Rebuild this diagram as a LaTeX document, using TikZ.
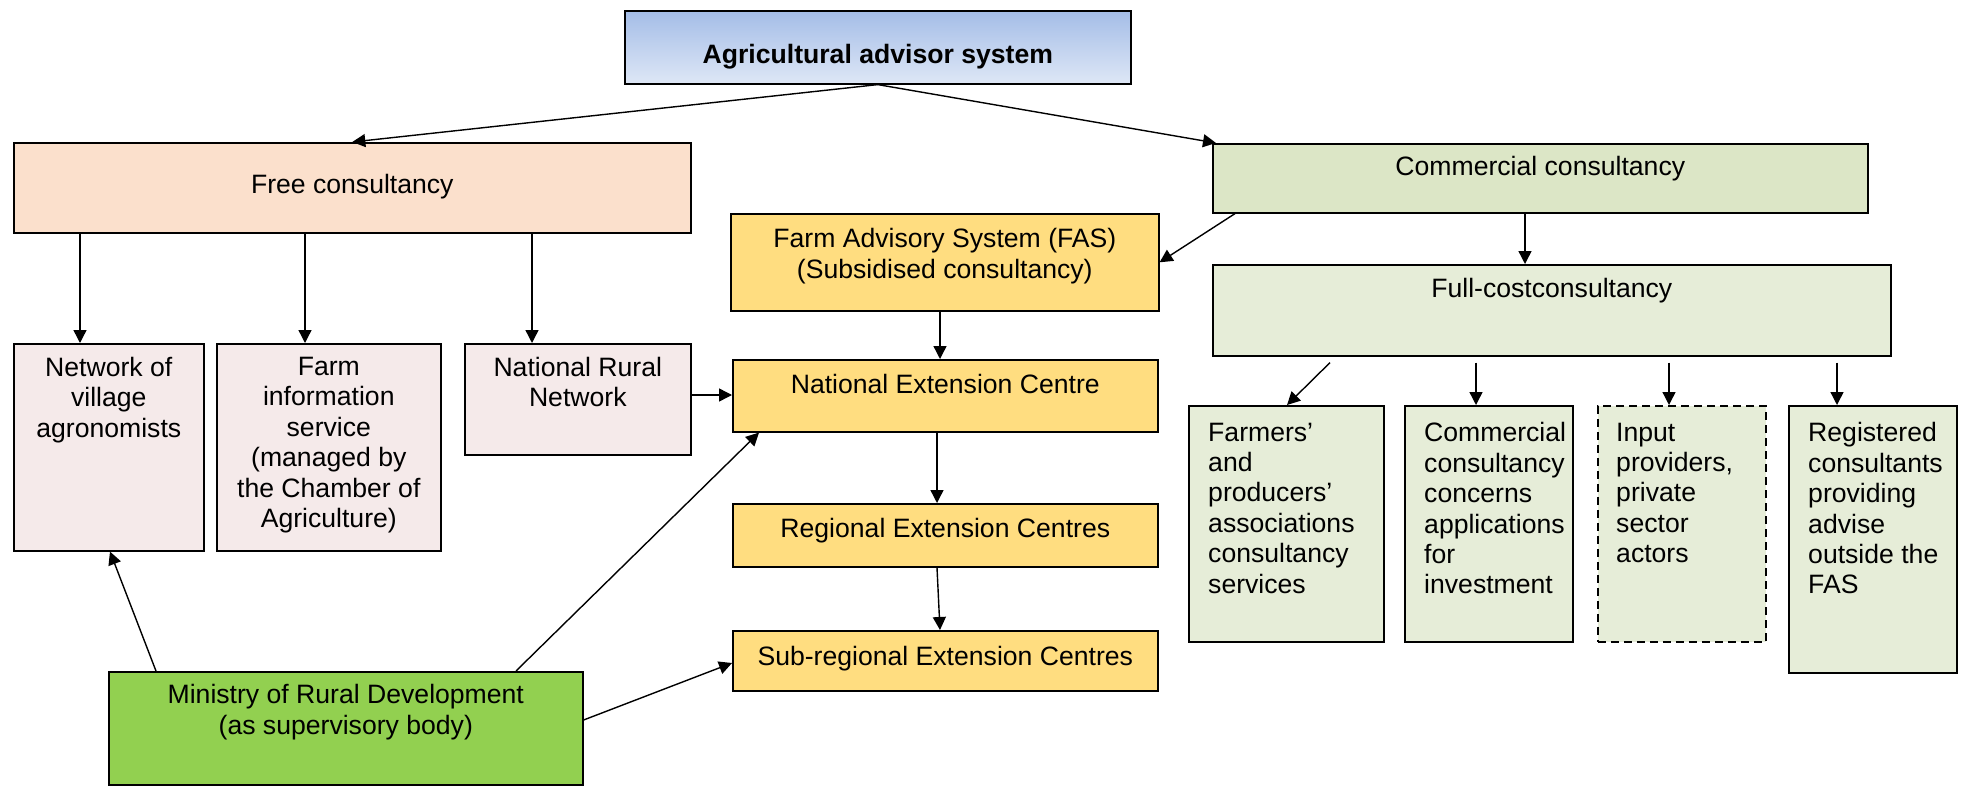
\documentclass[tikz,border=0pt]{standalone}
\usepackage{fontspec}
\setmainfont{Liberation Sans}
\usetikzlibrary{arrows.meta,calc}

\definecolor{headtop}{RGB}{164,189,231}
\definecolor{headbot}{RGB}{222,231,246}
\definecolor{freefill}{RGB}{251,224,204}
\definecolor{pinkfill}{RGB}{245,234,234}
\definecolor{commfill}{RGB}{220,230,198}
\definecolor{greenfill}{RGB}{230,237,216}
\definecolor{yellowfill}{RGB}{255,221,128}
\definecolor{ministryfill}{RGB}{146,208,80}

\begin{document}
\begin{tikzpicture}[x=1bp,y=-1bp,
  box/.style={draw=black, line width=1.6bp, inner sep=0pt, anchor=north west},
  lbl/.style={anchor=north, inner sep=0pt, align=center,
    font={\fontsize{26.6bp}{30.4bp}\selectfont}, execute at begin node=\strut},
  lbll/.style={lbl, align=left, anchor=north west},
  arr/.style={line width=1.4bp, -{Triangle[length=13bp,width=13bp]}}]
\useasboundingbox (0,0) rectangle (1968,786);

% ---- boxes ----
\node[box, top color=headtop, bottom color=headbot, minimum width=506bp, minimum height=73bp] (top) at (624,10) {};
\node[box, fill=freefill, minimum width=677bp, minimum height=90bp] (free) at (13,142) {};
\node[box, fill=commfill, minimum width=655bp, minimum height=69bp] (comm) at (1212,143) {};
\node[box, fill=yellowfill, minimum width=428bp, minimum height=97bp] (fas) at (730,213) {};
\node[box, fill=greenfill, minimum width=678bp, minimum height=91bp] (full) at (1212,264) {};
\node[box, fill=pinkfill, minimum width=190bp, minimum height=207bp] (net) at (13,343) {};
\node[box, fill=pinkfill, minimum width=224bp, minimum height=207bp] (farm) at (216,343) {};
\node[box, fill=pinkfill, minimum width=226bp, minimum height=111bp] (nrn) at (464,343) {};
\node[box, fill=yellowfill, minimum width=425bp, minimum height=72bp] (nec) at (732,359) {};
\node[box, fill=yellowfill, minimum width=425bp, minimum height=63bp] (reg) at (732,503) {};
\node[box, fill=yellowfill, minimum width=425bp, minimum height=60bp] (sub) at (732,630) {};
\node[box, fill=ministryfill, minimum width=474bp, minimum height=113bp] (min) at (108,671) {};
\node[box, fill=greenfill, minimum width=195bp, minimum height=236bp] (farmers) at (1188,405) {};
\node[box, fill=greenfill, minimum width=168bp, minimum height=236bp] (cconc) at (1404,405) {};
\node[box, fill=greenfill, dash pattern=on 8bp off 5bp, minimum width=168bp, minimum height=236bp] (input) at (1597,405) {};
\node[box, fill=greenfill, minimum width=168bp, minimum height=267bp] (regc) at (1788,405) {};

% ---- texts ----
\node[lbl] (top-t) at (top.north |- 0,42.5) {\textbf{Agricultural advisor system}};
\node[lbl] (free-t) at (free.north |- 0,172.5) {Free consultancy};
\node[lbl] (comm-t) at (comm.north |- 0,154.5) {Commercial consultancy};
\node[lbl] (fas-t) at (fas.north |- 0,228.5) {Farm Advisory System (FAS)\\(Subsidised consultancy)};
\node[lbl] (full-t) at (full.north |- 0,276.5) {Full-costconsultancy};
\node[lbl] (net-t) at (net.north |- 0,357) {Network of\\village\\agronomists};
\node[lbl] (farm-t) at (farm.north |- 0,357) {Farm\\information\\service\\(managed by\\the Chamber of\\Agriculture)};
\node[lbl] (nrn-t) at (nrn.north |- 0,357) {National Rural\\Network};
\node[lbl] (nec-t) at (nec.north |- 0,372.5) {National Extension Centre};
\node[lbl] (reg-t) at (reg.north |- 0,516.5) {Regional Extension Centres};
\node[lbl] (sub-t) at (sub.north |- 0,644.5) {Sub-regional Extension Centres};
\node[lbl] (min-t) at (min.north |- 0,684.5) {Ministry of Rural Development\\(as supervisory body)};
\node[lbll] (farmers-t) at ($(farmers.north west)+(20,17.5)$) {Farmers’\\and\\producers’\\associations\\consultancy\\services};
\node[lbll] (cconc-t) at ($(cconc.north west)+(20,17.5)$) {Commercial\\consultancy\\concerns\\applications\\for\\investment};
\node[lbll] (input-t) at ($(input.north west)+(19,17.5)$) {Input\\providers,\\private\\sector\\actors};
\node[lbll] (regc-t) at ($(regc.north west)+(20,17.5)$) {Registered\\consultants\\providing\\advise\\outside the\\FAS};

% ---- connectors ----
\draw[arr] (top.south) -- (free.north);
\draw[arr] (top.south) -- ($(comm.north west)+(4,0)$);
\draw[arr] (80,0 |- free.south) -- (80,0 |- net.north);
\draw[arr] (305,0 |- free.south) -- (305,0 |- farm.north);
\draw[arr] (532,0 |- free.south) -- (532,0 |- nrn.north);
\draw[arr] (nrn.east |- 0,395) -- (nec.west |- 0,395);
\draw[arr] (1235,0 |- comm.south) -- (fas.east);
\draw[arr] (1525,0 |- comm.south) -- (1525,0 |- full.north);
\draw[arr] (940,0 |- fas.south) -- (940,0 |- nec.north);
\draw[arr] (937,0 |- nec.south) -- (937,0 |- reg.north);
\draw[arr] (937,0 |- reg.south) -- (940,0 |- sub.north);
\draw[arr] (156,0 |- min.north) -- (110,0 |- net.south);
\draw[arr] (516,0 |- min.north) -- (759,0 |- nec.south);
\draw[arr] (min.east |- 0,720) -- (sub.west |- 0,663);
\draw[arr] ($(1330,0 |- full.south)+(0,6)$) -- (1287,0 |- farmers.north);
\draw[arr] ($(1476,0 |- full.south)+(0,6)$) -- (1476,0 |- cconc.north);
\draw[arr] ($(1669,0 |- full.south)+(0,6)$) -- (1669,0 |- input.north);
\draw[arr] ($(1837,0 |- full.south)+(0,6)$) -- (1837,0 |- regc.north);
\end{tikzpicture}
\end{document}
